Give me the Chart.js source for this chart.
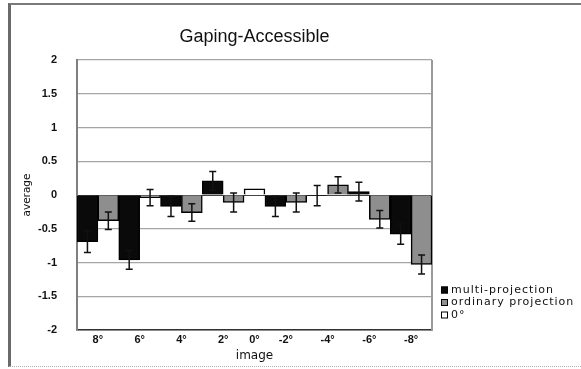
<!DOCTYPE html>
<html lang="en">
<head>
  <meta charset="UTF-8">
  <title>Gaping-Accessible</title>
  <script src="https://cdn.jsdelivr.net/npm/chart.js"></script>
  <style>
    body { margin: 0; background: #fff; overflow: hidden; }
    .moldura {
      position: absolute; left: 8px; top: 3px; width: 600px; height: 361px;
      border-top: 2px solid #7a7a7a; border-left: 3px solid #6a6a6a; border-bottom: 1px dotted #b0b0b0;
    }
    #grafico { position: absolute; left: 0; top: 0; }
  </style>
</head>
<body>
  <div class="moldura"></div>
  <canvas id="grafico" width="581" height="369"></canvas>
<script>

// categories on the x axis
var categorias = ['8°', '6°', '4°', '2°', '0°', '-2°', '-4°', '-6°', '-8°'];

// series values (null = no bar for that image)
var multiProjection    = [-0.69, -0.96, -0.17, 0.21, null, -0.17, -0.01, 0.05, -0.58];
var multiErro          = [0.16, 0.14, 0.15, 0.14, null, 0.15, 0.15, 0.14, 0.15];
var ordinaryProjection = [-0.38, -0.04, -0.26, -0.11, null, -0.11, 0.15, -0.36, -1.03];
var ordinaryErro       = [0.13, 0.12, 0.13, 0.14, null, 0.14, 0.12, 0.13, 0.14];
var zeroGrau           = [null, null, null, null, 0.09, null, null, null, null];
var zeroErro           = [null, null, null, null, null, null, null, null, null];

// y axis ticks
var ticksY = [-2, -1.5, -1, -0.5, 0, 0.5, 1, 1.5, 2];

var nomesSeries = ['multi-projection', 'ordinary projection', '0°'];
var coresSeries = ['#0a0a0a', '#8e8e8e', '#ffffff'];

// each present value takes one slot; a category is as wide as its bars
var valores = [multiProjection, ordinaryProjection, zeroGrau];
var erros = [multiErro, ordinaryErro, zeroErro];
var pontos = [[], [], []];
var posCategorias = [];
var slot = 0;
for (var i = 0; i < categorias.length; i++) {
  var inicio = slot;
  for (var s = 0; s < valores.length; s++) {
    if (valores[s][i] !== null) {
      pontos[s].push({ x: slot + 0.5, y: valores[s][i], erro: erros[s][i] });
      slot++;
    }
  }
  posCategorias.push((inicio + slot) / 2);
}
var totalSlots = slot;

// error bars
var barrasErro = {
  id: 'barrasErro',
  afterDatasetsDraw: function(chart) {
    var ctx = chart.ctx;
    var y = chart.scales.y;
    ctx.save();
    ctx.strokeStyle = '#111';
    ctx.lineWidth = 1.5;
    chart.data.datasets.forEach(function(ds, d) {
      var meta = chart.getDatasetMeta(d);
      meta.data.forEach(function(bar, j) {
        var p = ds.data[j];
        if (p.erro === null || p.erro === undefined) return;
        var yTopo = y.getPixelForValue(p.y + p.erro);
        var yBase = y.getPixelForValue(p.y - p.erro);
        ctx.beginPath();
        ctx.moveTo(bar.x, yTopo); ctx.lineTo(bar.x, yBase);
        ctx.moveTo(bar.x - 3.5, yTopo); ctx.lineTo(bar.x + 3.5, yTopo);
        ctx.moveTo(bar.x - 3.5, yBase); ctx.lineTo(bar.x + 3.5, yBase);
        ctx.stroke();
      });
    });
    ctx.restore();
  }
};

// right edge of the plot area
var bordaPlot = {
  id: 'bordaPlot',
  beforeDatasetsDraw: function(chart) {
    var a = chart.chartArea, ctx = chart.ctx;
    ctx.save();
    ctx.strokeStyle = '#9a9a9a';
    ctx.lineWidth = 2;
    ctx.beginPath();
    ctx.moveTo(a.right, a.top); ctx.lineTo(a.right, a.bottom);
    ctx.stroke();
    ctx.restore();
  }
};

// legend at the lower right
var legendaLateral = {
  id: 'legendaLateral',
  afterDraw: function(chart) {
    var ctx = chart.ctx, a = chart.chartArea;
    var x = a.right + 9, y0 = a.bottom - 40;
    ctx.save();
    ctx.font = '11px "DejaVu Sans"';
    ctx.textBaseline = 'middle';
    ctx.letterSpacing = '1px';
    chart.data.datasets.forEach(function(ds, i) {
      var y = y0 + i * 12.5;
      ctx.fillStyle = ds.backgroundColor;
      ctx.fillRect(x, y - 3.5, 7, 7);
      ctx.strokeStyle = '#000';
      ctx.lineWidth = 1;
      ctx.strokeRect(x + 0.5, y - 3, 6, 6);
      ctx.fillStyle = '#111';
      ctx.fillText(ds.label, x + 10, y);
    });
    ctx.restore();
  }
};

var datasets = [];
for (var k = 0; k < pontos.length; k++) {
  datasets.push({
    label: nomesSeries[k],
    data: pontos[k],
    backgroundColor: coresSeries[k],
    borderColor: '#000',
    borderWidth: 1.5,
    grouped: false,
    barPercentage: 1,
    categoryPercentage: 1
  });
}

var ctx = document.getElementById('grafico').getContext('2d');
var myChart = new Chart(ctx, {
  type: 'bar',
  data: { datasets: datasets },
  plugins: [bordaPlot, barrasErro, legendaLateral],
  options: {
    responsive: false,
    animation: false,
    layout: { padding: { left: 10, right: 149, top: 0, bottom: 0 } },
    plugins: {
      legend: { display: false },
      tooltip: { enabled: false },
      title: {
        display: true,
        text: 'Gaping-Accessible',
        fullSize: false,
        color: '#111',
        font: { family: '"Liberation Sans", Arial, sans-serif', size: 18, weight: 'normal' },
        padding: { top: 26, bottom: 12.4 }
      }
    },
    scales: {
      x: {
        type: 'linear',
        min: 0,
        max: totalSlots,
        offset: false,
        grid: { display: false, drawTicks: false },
        border: { display: true, color: '#333', width: 1.5 },
        afterBuildTicks: function(scale) {
          scale.ticks = posCategorias.map(function(v) { return { value: v }; });
        },
        afterFit: function(scale) { scale.height = 39; },
        ticks: {
          autoSkip: false,
          maxRotation: 0,
          padding: 3.5,
          color: '#111',
          font: { family: '"Liberation Sans", Arial, sans-serif', size: 11, weight: 'bold' },
          callback: function(value, index) { return categorias[index]; }
        },
        title: {
          display: true,
          text: 'image',
          color: '#111',
          font: { family: '"DejaVu Sans", sans-serif', size: 12 },
          padding: { top: 0, bottom: 5.8 }
        }
      },
      y: {
        min: -2,
        max: 2,
        afterBuildTicks: function(scale) {
          scale.ticks = ticksY.map(function(v) { return { value: v }; });
        },
        afterFit: function(scale) { scale.width = 67; },
        grid: {
          drawTicks: false,
          color: function(c) { return c.tick && c.tick.value === 0 ? '#444' : '#a5a5a5'; },
          lineWidth: function(c) { return c.tick && c.tick.value === 0 ? 1 : 1.2; }
        },
        border: { display: true, color: '#808080', width: 2 },
        ticks: {
          padding: 20,
          color: '#111',
          font: { family: '"Liberation Sans", Arial, sans-serif', size: 11, weight: 'bold' },
          callback: function(value) { return String(value); }
        },
        title: {
          display: true,
          text: 'average',
          color: '#111',
          font: { family: '"DejaVu Sans", sans-serif', size: 10.5 },
          padding: { top: 10.7, bottom: 0 }
        }
      }
    }
  }
});
</script>
</body>
</html>
